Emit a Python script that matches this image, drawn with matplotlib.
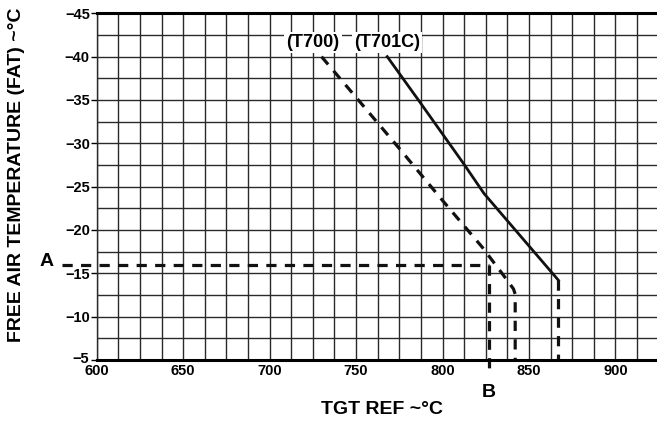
import matplotlib
matplotlib.use("Agg")
from matplotlib import pyplot as plt
from matplotlib.ticker import MultipleLocator
from matplotlib.transforms import ScaledTranslation
import numpy as np

plt.rcParams['font.family'] = ['Liberation Sans', 'DejaVu Sans']
plt.rcParams['font.weight'] = 'bold'

# T700 curve (dashed), ends in a drop to the bottom axis
t700_tgt = [730, 750, 775, 800, 823, 837, 841, 842, 842]
t700_fat = [-40, -35.3, -29.4, -23.4, -18.0, -14.3, -13.2, -12.6, -5]

# T701C curve (solid) and its dashed drop line
t701c_tgt = [768, 786, 812, 824, 867]
t701c_fat = [-40, -35, -27.7, -24.2, -14.2]
t701c_drop_tgt = [867, 867]
t701c_drop_fat = [-14.2, -5]

# example reading A -> B
fat_a = -16
tgt_b = 827

xticks = [600, 650, 700, 750, 800, 850, 900]
yticks = [-45, -40, -35, -30, -25, -20, -15, -10, -5]

fig = plt.figure(figsize=(6.57, 4.23), dpi=100)
ax = fig.add_axes([96.7 / 657, 1 - 360 / 423, (657 - 96.7) / 657, (360 - 13.3) / 423])

ax.set_xlim(600, 924)
ax.set_ylim(-5, -45)
ax.set_xticks(xticks)
ax.set_yticks(yticks)
ax.xaxis.set_minor_locator(MultipleLocator(12.5))
ax.yaxis.set_minor_locator(MultipleLocator(2.5))
ax.grid(which='both', color='#2a2a2a', lw=1.0)
ax.set_axisbelow(True)
ax.tick_params(axis='x', which='both', length=0, pad=3, labelsize=10.5)
ax.tick_params(axis='y', which='major', length=4, width=1, pad=1, labelsize=10.5)
ax.tick_params(axis='y', which='minor', length=0)
for lab in ax.get_xticklabels() + ax.get_yticklabels():
    lab.set_fontweight('bold')

# bottom "-5" label sits a little higher, clear of "600"
fig.canvas.draw()
low = ax.get_yticklabels()[-1]
low.set_transform(low.get_transform() + ScaledTranslation(-1 / 100, 3 / 100, fig.dpi_scale_trans))

ax.spines['right'].set_visible(False)
ax.spines['left'].set_linewidth(1.0)
ax.spines['left'].set_color('#2a2a2a')
ax.spines['top'].set_linewidth(2.2)
ax.spines['bottom'].set_linewidth(2.2)

dash = (0, (3.2, 2.6))
ax.plot(t700_tgt, t700_fat, color='#111111', lw=2.3, linestyle=dash)
ax.plot(t701c_tgt, t701c_fat, color='#111111', lw=2.0)
ax.plot(t701c_drop_tgt, t701c_drop_fat, color='#111111', lw=2.3, linestyle=dash)

# A / B guide lines
ax.plot([580, tgt_b], [fat_a, fat_a], color='#111111', lw=2.3, linestyle=dash, clip_on=False)
ax.plot([tgt_b, tgt_b], [fat_a, -3.5], color='#111111', lw=2.3, linestyle=dash, clip_on=False)
ax.text(571, fat_a - 0.4, 'A', fontsize=14, fontweight='bold', ha='center', va='center', clip_on=False)
ax.text(tgt_b - 0.5, -1.2, 'B', fontsize=14, fontweight='bold', ha='center', va='center', clip_on=False)

box = dict(facecolor='white', edgecolor='none', pad=1.5)
ax.text(725, -41.6, '(T700)', fontsize=13, fontweight='bold', ha='center', va='center', bbox=box)
ax.text(768, -41.6, '(T701C)', fontsize=13, fontweight='bold', ha='center', va='center', bbox=box)

fig.text(381.7 / 657, 1 - 409 / 423, 'TGT REF ~°C', fontsize=14, fontweight='bold', ha='center', va='center')
fig.text(17 / 657, 1 - 175 / 423, 'FREE AIR TEMPERATURE (FAT) ~°C', fontsize=14, fontweight='bold',
         rotation=90, ha='center', va='center')

fig.savefig('out.png', dpi=100)
